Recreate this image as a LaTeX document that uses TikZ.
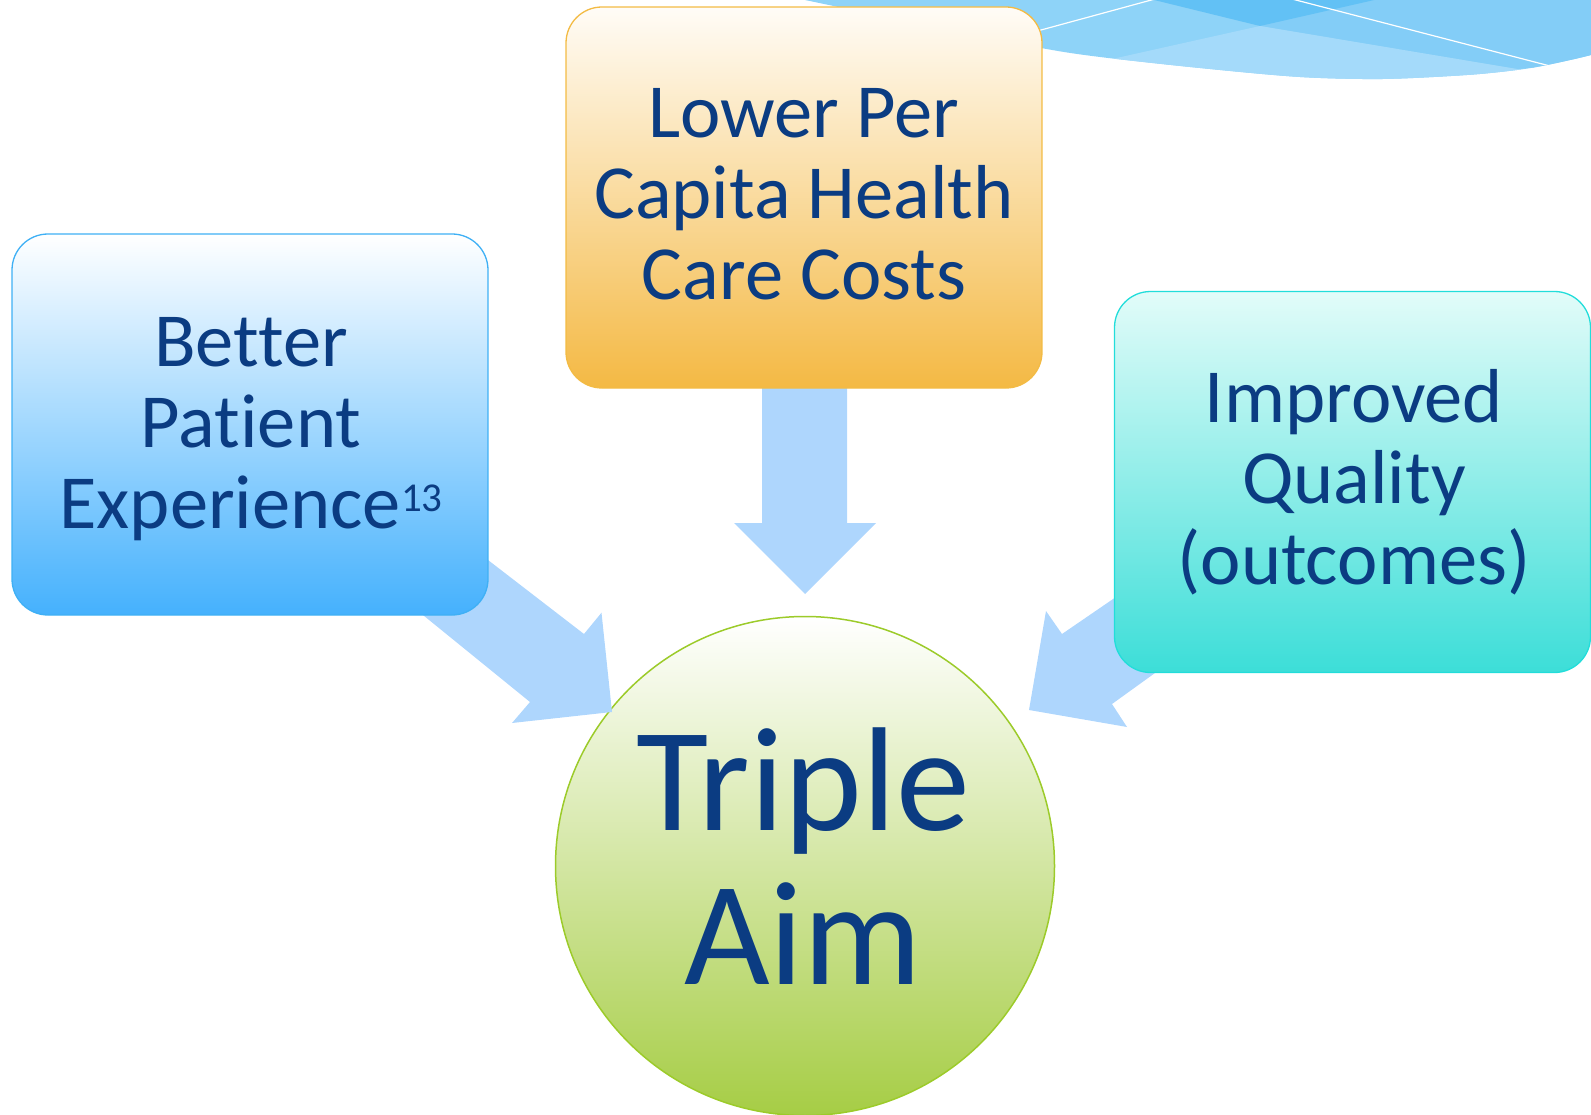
\documentclass[tikz,border=0pt]{standalone}
\usepackage{fontspec}
\setmainfont{Carlito}[Ligatures={NoCommon}]
\definecolor{txtc}{HTML}{0B3C82}
\definecolor{arrowc}{HTML}{AED6FD}
\definecolor{lbord}{HTML}{3FB0F5}
\definecolor{lbot}{HTML}{45B1FD}
\definecolor{mbord}{HTML}{F3BB44}
\definecolor{mbot}{HTML}{F4B944}
\definecolor{mtop}{HTML}{FFFCF7}
\definecolor{rbord}{HTML}{22DDDA}
\definecolor{rbot}{HTML}{3CDED8}
\definecolor{rtop}{HTML}{E2FCF9}
\definecolor{cbord}{HTML}{9CCB2A}
\definecolor{cbot}{HTML}{A6CD45}
\definecolor{waveA}{HTML}{8ED3F8}
\definecolor{waveR}{HTML}{83CDF7}
\definecolor{waveD}{HTML}{62C1F5}
\definecolor{waveL}{HTML}{A4DAFA}
\tikzset{
  box/.style={rounded corners=36pt, minimum width=476pt, minimum height=381pt, inner sep=0pt, line width=1.3pt},
  boxtext/.style={text=txtc, align=center, inner sep=0pt, font=\fontsize{76.5}{81}\selectfont},
  aimtext/.style={text=txtc, align=center, inner sep=0pt, font=\fontsize{148}{154}\selectfont},
  bigarrow/.style={fill=arrowc, draw=none},
  whiteline/.style={draw=white, line width=1.2pt}
}
\begin{document}
\begin{tikzpicture}[x=1pt,y=-1pt]
\useasboundingbox (0,0) rectangle (1591,1115);
\clip (0,0) rectangle (1591,1115);

% decorative wave (top right)
\begin{scope}
  \clip plot[smooth] coordinates {(790,-3) (805,0) (920,24) (1041,48) (1100,57) (1200,68) (1300,77) (1383,79) (1467,75) (1517,70) (1547,65) (1591,55) (1620,45)} -- (1620,-10) -- (790,-10) -- cycle;
  \fill[waveA] (780,-10) rectangle (1620,100);
  \fill[waveR] (1377,-10) -- (1620,-10) -- (1620,60) -- (1517,69) -- (1260,26) -- cycle;
  \fill[waveD] (1146,-2) -- (1383,-2) -- (1260,26) -- cycle;
  \fill[waveL] (1000,84) -- (1260,26) -- (1517,69) -- (1620,80) -- (1620,200) -- (1000,200) -- cycle;
  \draw[whiteline] (1030,33) -- (1155,-1);
  \draw[whiteline] (1290,-1.5) -- (1550,66);
\end{scope}

% central circle
\node[circle, draw=cbord, line width=1.5pt, top color=white, bottom color=cbot, minimum size=499pt, inner sep=0pt] (aim) at (805,866) {};

% big arrows
\node[inner sep=0pt] (ltip) at (612,712) {};
\fill[bigarrow] (440,523) -- (584,634) -- (601.5,612.7) -- (ltip.center) -- (512,723) -- (530,702) -- (370,572) -- cycle;
\node[inner sep=0pt] (mtip) at (805,594) {};
\fill[bigarrow] (762,380) -- (847,380) -- (847,523) -- (876,523) -- (mtip.center) -- (734,523) -- (762,523) -- cycle;
\node[inner sep=0pt] (rtip) at (1029,710) {};
\fill[bigarrow] (1170,560) -- (1062,634) -- (1046,611) -- (rtip.center) -- (1127,727) -- (1112,704) -- (1198,642) -- cycle;

% boxes
\node[box, draw=lbord, top color=white, bottom color=lbot] (lbox) at (250,424.5) {};
\node[box, draw=mbord, top color=mtop, bottom color=mbot] (mbox) at (804,197.5) {};
\node[box, draw=rbord, top color=rtop, bottom color=rbot] (rbox) at (1352.5,482) {};

% texts
\node[boxtext] (ltext) at (251,429) {Better\\Patient\\Experience\raisebox{17pt}{\fontsize{41}{41}\selectfont 13}};
\node[boxtext] (mtext) at (804,194) {Lower Per\\Capita Health\\Care Costs};
\node[boxtext] (rtext) at (1354,482) {Improved\\Quality\\(outcomes)};
\node[aimtext] (aimtext) at (803,856) {Triple\\Aim};
\end{tikzpicture}
\end{document}
